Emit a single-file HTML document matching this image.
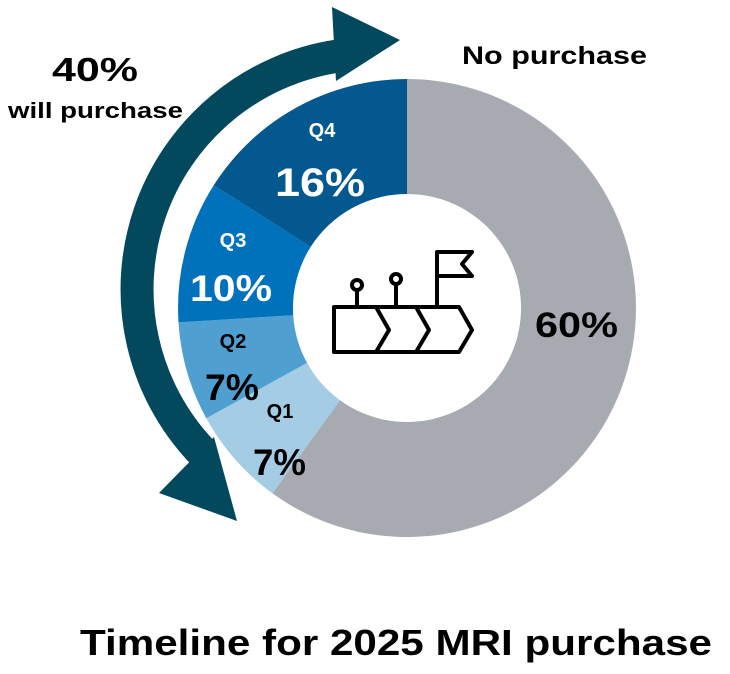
<!DOCTYPE html>
<html><head><meta charset="utf-8"><style>
html,body{margin:0;padding:0;background:#fff;}
body{width:730px;height:669px;overflow:hidden;}
svg text{font-family:"Liberation Sans",sans-serif;font-weight:bold;}
</style></head><body>
<svg width="730" height="669" viewBox="0 0 730 669" xmlns="http://www.w3.org/2000/svg">
<!-- donut -->
<path d="M407,79 A229,229 0 1 1 272.4,493.3 L340.0,400.2 A114,114 0 1 0 407,194 Z" fill="#a7abb1"/>
<path d="M272.4,493.3 A229,229 0 0 1 206.3,418.3 L307.1,362.9 A114,114 0 0 0 340.0,400.2 Z" fill="#a5cce5"/>
<path d="M206.3,418.3 A229,229 0 0 1 178.5,322.4 L293.2,315.2 A114,114 0 0 0 307.1,362.9 Z" fill="#509fd1"/>
<path d="M178.5,322.4 A229,229 0 0 1 213.7,185.3 L310.7,246.9 A114,114 0 0 0 293.2,315.2 Z" fill="#0072bb"/>
<path d="M213.7,185.3 A229,229 0 0 1 407,79 L407,194 A114,114 0 0 0 310.7,246.9 Z" fill="#03598f"/>
<!-- arrow -->
<path d="M338,56 A236,236 0 0 0 202,452" fill="none" stroke="#03495e" stroke-width="33"/>
<polygon points="332,7 400,40 336,81" fill="#03495e"/>
<polygon points="159,493 237,521 214,437" fill="#03495e"/>
<!-- icon -->
<g fill="none" stroke="#000" stroke-width="4" stroke-linejoin="round">
<path d="M334,307 L459,307 L472,330 L459,352 L334,352 Z"/>
<path d="M376,307 L389,330 L376,352"/>
<path d="M416,307 L429,330 L416,352"/>
<line x1="357" y1="290" x2="357" y2="307"/>
<circle cx="357" cy="285" r="5"/>
<line x1="396" y1="284" x2="396" y2="307"/>
<circle cx="396" cy="279" r="5"/>
<path d="M437,307 L437,252 L472,252 L462,264 L472,276 L437,276"/>
</g>
<!-- labels -->
<text x="52" y="81" font-size="33" textLength="86" lengthAdjust="spacingAndGlyphs" fill="#000">40%</text>
<text x="8" y="118" font-size="22" textLength="175" lengthAdjust="spacingAndGlyphs" fill="#000">will purchase</text>
<text x="462" y="64" font-size="25" textLength="185" lengthAdjust="spacingAndGlyphs" fill="#000">No purchase</text>
<text x="535" y="337" font-size="35" textLength="83" lengthAdjust="spacingAndGlyphs" fill="#000">60%</text>
<text x="322" y="137" font-size="20" text-anchor="middle" fill="#fff">Q4</text>
<text x="275" y="196" font-size="40" textLength="90" lengthAdjust="spacingAndGlyphs" fill="#fff">16%</text>
<text x="233" y="247" font-size="20" text-anchor="middle" fill="#fff">Q3</text>
<text x="190" y="301" font-size="37" textLength="82" lengthAdjust="spacingAndGlyphs" fill="#fff">10%</text>
<text x="233" y="348" font-size="20" text-anchor="middle" fill="#000">Q2</text>
<text x="205" y="400" font-size="37" textLength="54" lengthAdjust="spacingAndGlyphs" fill="#000">7%</text>
<text x="280" y="418" font-size="20" text-anchor="middle" fill="#000">Q1</text>
<text x="253" y="475" font-size="37" textLength="53" lengthAdjust="spacingAndGlyphs" fill="#000">7%</text>
<text x="80" y="655" font-size="36" textLength="632" lengthAdjust="spacingAndGlyphs" fill="#000">Timeline for 2025 MRI purchase</text>
</svg>
</body></html>
